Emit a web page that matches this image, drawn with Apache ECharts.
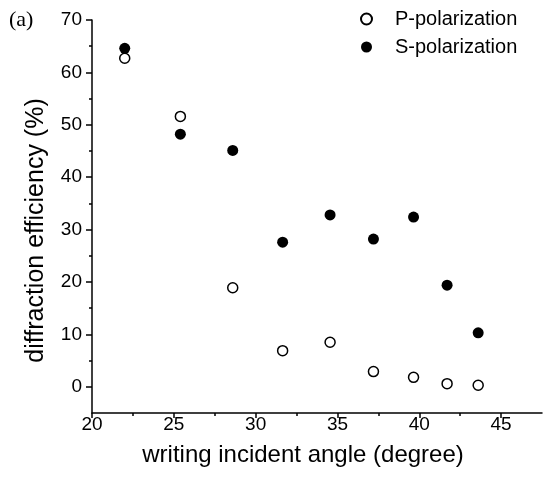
<!DOCTYPE html>
<html>
<head>
<meta charset="utf-8">
<script src="https://cdn.jsdelivr.net/npm/echarts@6/dist/echarts.min.js"></script>
<style>
html, body { margin: 0; padding: 0; background: #fff; }
#one { width: 548px; height: 481px; }
</style>
</head>
<body>
<div id="one"></div>
<script>
(function(){
var myChart = echarts.init(document.getElementById('one'));

// data
var angle = [22.0, 25.4, 28.6, 31.65, 34.55, 37.2, 39.65, 41.7, 43.6];
var pPol = [62.7, 51.6, 18.9, 6.9, 8.5, 2.9, 1.8, 0.6, 0.3];
var sPol = [64.6, 48.2, 45.1, 27.6, 32.8, 28.2, 32.4, 19.4, 10.3];
var xTicks = [20, 25, 30, 35, 40, 45];
var xMinor = [22.5, 27.5, 32.5, 37.5, 42.5];
var yTicks = [0, 10, 20, 30, 40, 50, 60, 70];
var yMinor = [5, 15, 25, 35, 45, 55, 65];

function pairs(xs, ys) {
    var out = [];
    for (var i = 0; i < xs.length; i++) out.push([xs[i], ys[i]]);
    return out;
}

var font = 'Liberation Sans';
var lineStyle = { color: '#000', width: 1.5 };

myChart.setOption({
    backgroundColor: '#fff',
    animation: false,
    textStyle: { fontFamily: font, color: '#000' },
    graphic: [{
        type: 'text', left: 9, top: 9,
        style: { text: '(a)', font: '22px "Liberation Serif"', fill: '#000' }
    }],
    legend: {
        orient: 'vertical',
        left: 355, top: 4,
        itemWidth: 11, itemHeight: 11,
        itemGap: 8,
        textStyle: { fontSize: 20, color: '#000', fontFamily: font, padding: [0, 0, 0, 18] },
        data: ['P-polarization', 'S-polarization']
    },
    grid: {
        left: 92, right: 6, top: 20, bottom: 68,
        outerBoundsMode: 'none'
    },
    xAxis: [{
        type: 'value', min: 20, max: 47.5,
        name: 'writing incident angle (degree)',
        nameLocation: 'middle', nameGap: 30,
        nameTextStyle: { fontSize: 24, color: '#000', fontFamily: font, padding: [0, 28, 0, 0] },
        axisLine: { onZero: false, lineStyle: lineStyle },
        axisTick: { inside: false, length: 5, lineStyle: lineStyle, customValues: xTicks },
        axisLabel: { fontSize: 19, color: '#000', margin: 2, customValues: xTicks },
        splitLine: { show: false }
    }, {
        type: 'value', min: 20, max: 47.5, position: 'bottom',
        axisLine: { show: false, onZero: false },
        axisTick: { inside: false, length: 3, lineStyle: lineStyle, customValues: xMinor },
        axisLabel: { show: false },
        splitLine: { show: false }
    }],
    yAxis: [{
        type: 'value', min: -5, max: 70,
        name: 'diffraction efficiency (%)',
        nameLocation: 'middle', nameGap: 43,
        nameTextStyle: { fontSize: 25, color: '#000', fontFamily: font, padding: [0, 28, 0, 0] },
        axisLine: { show: true, onZero: false, lineStyle: lineStyle },
        axisTick: { show: true, inside: false, length: 6, lineStyle: lineStyle, customValues: yTicks },
        axisLabel: { fontSize: 19, color: '#000', margin: 10, customValues: yTicks },
        splitLine: { show: false }
    }, {
        type: 'value', min: -5, max: 70, position: 'left',
        axisLine: { show: false, onZero: false },
        axisTick: { show: true, inside: false, length: 3, lineStyle: lineStyle, customValues: yMinor },
        axisLabel: { show: false },
        splitLine: { show: false }
    }],
    series: [
        {
            name: 'P-polarization', type: 'scatter',
            xAxisIndex: 0, yAxisIndex: 0,
            symbol: 'circle', symbolSize: 10,
            itemStyle: { color: '#fff', borderColor: '#000', borderWidth: 1.5, opacity: 1 },
            data: pairs(angle, pPol)
        },
        {
            name: 'S-polarization', type: 'scatter',
            xAxisIndex: 0, yAxisIndex: 0,
            symbol: 'circle', symbolSize: 11,
            itemStyle: { color: '#000', borderColor: '#000', borderWidth: 0, opacity: 1 },
            data: pairs(angle, sPol)
        }
    ]
});
})();
</script>
</body>
</html>
